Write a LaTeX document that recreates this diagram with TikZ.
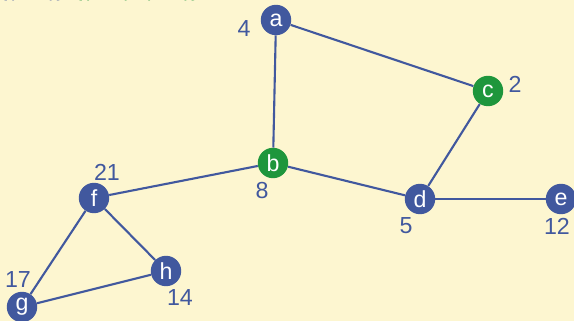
\documentclass[tikz,border=0pt]{standalone}
\usepackage{fontspec}
\setmainfont{Liberation Sans}
\usetikzlibrary{calc}

\definecolor{bgyellow}{RGB}{253,246,208}
\definecolor{vblue}{RGB}{65,88,158}
\definecolor{vgreen}{RGB}{30,150,60}

\begin{document}
\begin{tikzpicture}[x=0.025cm, y=-0.025cm,
    % Define the styles for the vertices and the edges
    vertex/.style={circle, fill=vblue, text=white, minimum size=0.76cm, inner sep=0pt,
        font=\fontsize{16.5}{19}\selectfont},
    picked/.style={vertex, fill=vgreen},
    weight/.style={text=vblue, font=\fontsize{16.5}{19}\selectfont, inner sep=0pt},
    edge/.style={draw=vblue, line width=1.5pt}
]

% Background and clipping window
\fill[bgyellow] (0,0) rectangle (574,321);
\clip (0,0) rectangle (574,321);

% Cut off text at the top
\node[anchor=base west, inner sep=0pt, font=\fontsize{15}{18}\selectfont] (top) at (0,-3.5)
    {\textcolor{vblue}{\{(a, b)\},} \textcolor{vgreen}{\{(a, b), (c, d)\}}};

% Define the vertices
\node[vertex] (a) at (276,20) {a};
\node[picked] (b) at (273,163) {b};
\node[picked] (c) at (488,91) {c};
\node[vertex] (d) at (420,199) {d};
\node[vertex] (e) at (561,199) {e};
\node[vertex] (f) at (94,198) {f};
\node[vertex] (g) at (22,307) {g};
\node[vertex] (h) at (166,271) {h};

% Draw the edges
\draw[edge] (a) -- (b);
\draw[edge] (a) -- (c);
\draw[edge] (c) -- (d);
\draw[edge] (b) -- (d);
\draw[edge] (d) -- (e);
\draw[edge] (b) -- (f);
\draw[edge] (f) -- (h);
\draw[edge] (f) -- (g);
\draw[edge] (g) -- (h);

% Add the weights
\node[weight] (wa) at (244,29) {4};
\node[weight] (wb) at (262,191) {8};
\node[weight] (wc) at (515,84) {2};
\node[weight] (wd) at (406,226) {5};
\node[weight] (we) at (557,226) {12};
\node[weight] (wf) at (107,172) {21};
\node[weight] (wg) at (18,280) {17};
\node[weight] (wh) at (180,298) {14};

\end{tikzpicture}
\end{document}
